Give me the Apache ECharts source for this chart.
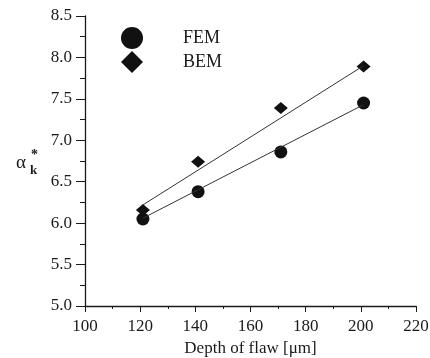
<!DOCTYPE html>
<html>
<head>
<meta charset="utf-8">
<script src="https://cdn.jsdelivr.net/npm/echarts@6/dist/echarts.min.js"></script>
<style>
  html, body { margin: 0; padding: 0; background: #fff; }
  #chart { width: 430px; height: 358px; }
</style>
</head>
<body>
<div id="chart"></div>
<script>
// values
const depth = [121, 141, 171, 201]
const femValues = [6.05, 6.38, 6.86, 7.45]
const bemValues = [6.16, 6.74, 7.39, 7.89]
// fitted straight lines (end points)
const fitDepth = [121, 201]
const femFit = [6.06, 7.43]
const bemFit = [6.22, 7.9]

const font = 'Liberation Serif'
const ink = '#1a1a1a'

const pairs = (xs, ys) => xs.map((x, i) => [x, ys[i]])

const chart = echarts.init(document.getElementById('chart'))

chart.setOption({
  animation: false,
  grid: {
    left: 85,
    right: 14,
    top: 16,
    bottom: 52,
    outerBoundsMode: 'none'
  },
  legend: {
    data: ['FEM', 'BEM'],
    orient: 'vertical',
    left: 116,
    top: 22,
    itemWidth: 22,
    itemHeight: 22,
    itemGap: 2,
    textStyle: {
      fontFamily: font,
      fontSize: 18,
      color: ink,
      padding: [0, 0, 0, 35]
    }
  },
  xAxis: {
    type: 'value',
    min: 100,
    max: 220,
    interval: 20,
    name: 'Depth of flaw [μm]',
    nameLocation: 'middle',
    nameGap: 34,
    nameTextStyle: { fontFamily: font, fontSize: 17, color: ink },
    splitLine: { show: false },
    axisLine: { lineStyle: { color: ink, width: 1.3 } },
    axisTick: { length: 6, lineStyle: { color: ink } },
    minorTick: { show: true, splitNumber: 2, length: 3, lineStyle: { color: ink } },
    axisLabel: { fontFamily: font, fontSize: 17, color: ink, margin: 12 }
  },
  yAxis: {
    type: 'value',
    min: 5,
    max: 8.5,
    interval: 0.5,
    splitLine: { show: false },
    axisLine: { show: true, lineStyle: { color: ink, width: 1.3 } },
    axisTick: { show: true, length: 9, lineStyle: { color: ink } },
    minorTick: { show: true, splitNumber: 2, length: 5, lineStyle: { color: ink } },
    axisLabel: {
      fontFamily: font,
      fontSize: 17,
      color: ink,
      margin: 13,
      formatter: v => v.toFixed(1)
    }
  },
  graphic: [
    { type: 'text', left: 16, top: 154, style: { text: 'α', font: '19px "Liberation Serif"', fill: ink } },
    { type: 'text', left: 31, top: 148, style: { text: '*', font: 'bold 14px "Liberation Serif"', fill: ink } },
    { type: 'text', left: 30, top: 164, style: { text: 'k', font: 'bold 13px "Liberation Serif"', fill: ink } }
  ],
  series: [
    {
      name: 'FEM fit',
      type: 'line',
      data: pairs(fitDepth, femFit),
      symbol: 'none',
      lineStyle: { color: '#333', width: 1 },
      silent: true
    },
    {
      name: 'BEM fit',
      type: 'line',
      data: pairs(fitDepth, bemFit),
      symbol: 'none',
      lineStyle: { color: '#333', width: 1 },
      silent: true
    },
    {
      name: 'FEM',
      type: 'scatter',
      data: pairs(depth, femValues),
      symbol: 'circle',
      symbolSize: 13,
      itemStyle: { color: '#111', opacity: 1 }
    },
    {
      name: 'BEM',
      type: 'scatter',
      data: pairs(depth, bemValues),
      symbol: 'diamond',
      symbolSize: [14, 12],
      itemStyle: { color: '#111', opacity: 1 }
    }
  ]
})
</script>
</body>
</html>
